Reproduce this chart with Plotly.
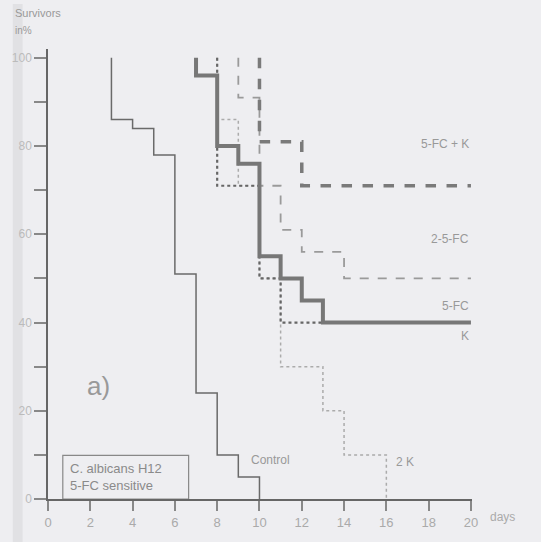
import plotly.graph_objects as go

# Survival data (days, % survivors) - step functions
control_x = [3, 3, 4, 5, 6, 7, 8, 9, 10]
control_y = [100, 86, 84, 78, 51, 24, 10, 5, 0]

fc_x = [7, 7, 8, 9, 10, 11, 12, 13, 20]
fc_y = [100, 96, 80, 76, 55, 50, 45, 40, 40]

fck_x = [10, 10, 12, 20]
fck_y = [100, 81, 71, 71]

fc2_x = [9, 9, 10, 11, 12, 14, 20]
fc2_y = [100, 91, 71, 61, 56, 50, 50]

k_x = [8, 8, 10, 11, 13]
k_y = [100, 71, 50, 40, 40]

k2_x = [8, 8, 9, 10, 11, 13, 14, 16]
k2_y = [100, 86, 71, 50, 30, 20, 10, 0]

x_ticks = [0, 2, 4, 6, 8, 10, 12, 14, 16, 18, 20]
y_ticks = [0, 10, 20, 30, 40, 50, 60, 70, 80, 90, 100]
y_labels = ["0", "", "20", "", "40", "", "60", "", "80", "", "100"]

fig = go.Figure()

def add(x, y, color, width, dash):
    fig.add_trace(go.Scatter(x=x, y=y, mode="lines", line_shape="hv",
                             line=dict(color=color, width=width, dash=dash),
                             showlegend=False, hoverinfo="skip", cliponaxis=False))

add(k2_x, k2_y, "#ababab", 1.5, "dot")
add(fc2_x, fc2_y, "#9a9a9a", 1.8, "dash")
add(control_x, control_y, "#6a6a6a", 1.5, "solid")
add(k_x, k_y, "#666666", 2.2, "dot")
add(fck_x, fck_y, "#7a7a7a", 3.5, "dash")
add(fc_x, fc_y, "#777777", 4, "solid")

bg = "#eeeef1"
fig.update_layout(
    width=541, height=542,
    margin=dict(l=45, r=69, t=49, b=40),
    paper_bgcolor=bg, plot_bgcolor=bg,
    font=dict(family="Liberation Sans, Arial, sans-serif", color="#9a9a9a", size=12),
    xaxis=dict(range=[0, 20.05], tickvals=x_ticks, ticktext=[str(v) for v in x_ticks],
               showgrid=False, zeroline=False, showline=True, linecolor="#666", linewidth=2,
               ticks="outside", ticklen=10, tickcolor="#888", tickwidth=1.5,
               tickfont=dict(size=13, color="#aaaaaa")),
    yaxis=dict(range=[0, 102], tickvals=y_ticks, ticktext=y_labels,
               showgrid=False, zeroline=False, showline=True, linecolor="#666", linewidth=1.5,
               ticks="outside", ticklen=12, tickcolor="#888", tickwidth=1.5,
               tickfont=dict(size=12, color="#bbbbbb")),
)

# scan shadow on left edge
fig.add_shape(type="rect", xref="paper", yref="paper", x0=-0.083, x1=-0.06, y0=-0.1, y1=1.1,
              fillcolor="#d8d8dc", line_width=0, layer="below", opacity=0.6)

# info box
fig.add_shape(type="rect", x0=0.7, x1=6.65, y0=0, y1=9.9,
              line=dict(color="#888", width=1.2), fillcolor=bg, layer="below")

ann = [
    dict(x=0.95, y=5, text="C. albicans H12<br>5-FC sensitive", xanchor="left", yanchor="middle",
         align="left", font=dict(size=13, color="#8a8a8a")),
    dict(x=20, y=80.4, text="5-FC + K", xanchor="right", font=dict(size=12, color="#999")),
    dict(x=20, y=59, text="2-5-FC", xanchor="right", font=dict(size=12, color="#999")),
    dict(x=20, y=43.7, text="5-FC", xanchor="right", font=dict(size=12, color="#999")),
    dict(x=19.7, y=37, text="K", xanchor="center", font=dict(size=12, color="#999")),
    dict(x=16.9, y=8.3, text="2 K", xanchor="center", font=dict(size=12, color="#999")),
    dict(x=10.5, y=8.8, text="Control", xanchor="center", font=dict(size=12, color="#999")),
    dict(x=2.4, y=25.7, text="a)", xanchor="center", font=dict(size=26, color="#999")),
]
for a in ann:
    a.setdefault("showarrow", False)
    a.setdefault("yanchor", "middle")
    fig.add_annotation(**a)

fig.add_annotation(xref="paper", yref="paper", x=-0.083, y=1.08, text="Survivors",
                   showarrow=False, xanchor="left", yanchor="middle",
                   font=dict(size=11, color="#999"))
fig.add_annotation(xref="paper", yref="paper", x=-0.083, y=1.042, text="in%",
                   showarrow=False, xanchor="left", yanchor="middle",
                   font=dict(size=10, color="#999"))
fig.add_annotation(x=20, y=0, yshift=-18, xshift=17, text="days", showarrow=False,
                   xanchor="left", yanchor="middle", font=dict(size=12, color="#aaa"))

fig.write_html("out.html")
